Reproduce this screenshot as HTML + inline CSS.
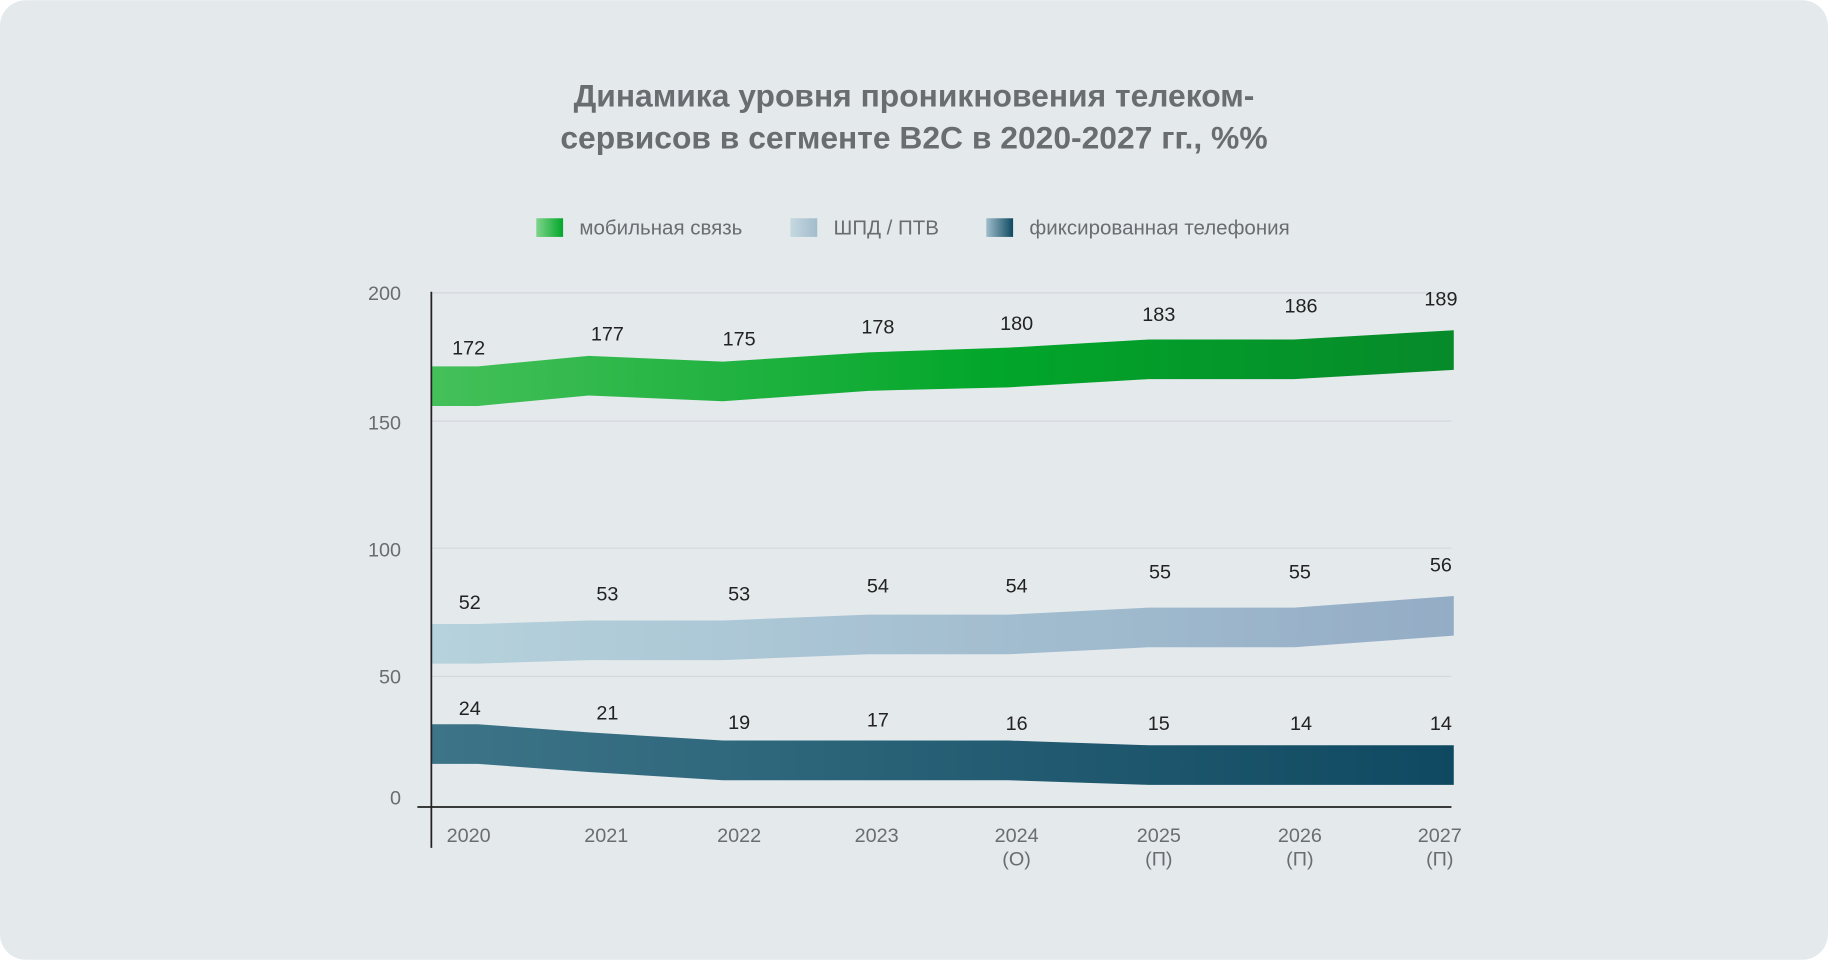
<!DOCTYPE html>
<html><head><meta charset="utf-8"><style>
html,body{margin:0;padding:0;background:#fff;}
svg{display:block;}
text{font-family:"Liberation Sans",sans-serif;}
</style></head><body>
<svg width="1828" height="960" viewBox="0 0 1568 823" xmlns="http://www.w3.org/2000/svg">
<defs>
<linearGradient id="gg" x1="370" x2="1247" y1="0" y2="0" gradientUnits="userSpaceOnUse">
<stop offset="0" stop-color="#45c05a"/><stop offset="0.55" stop-color="#02a62a"/><stop offset="1" stop-color="#068a2a"/></linearGradient>
<linearGradient id="lg" x1="370" x2="1247" y1="0" y2="0" gradientUnits="userSpaceOnUse">
<stop offset="0" stop-color="#b6d2dc"/><stop offset="1" stop-color="#94adc6"/></linearGradient>
<linearGradient id="dg" x1="370" x2="1247" y1="0" y2="0" gradientUnits="userSpaceOnUse">
<stop offset="0" stop-color="#3d7488"/><stop offset="1" stop-color="#0f4961"/></linearGradient>
<linearGradient id="lgg" x1="0" x2="1"><stop offset="0" stop-color="#7fd48c"/><stop offset="1" stop-color="#02a62a"/></linearGradient>
<linearGradient id="lgl" x1="0" x2="1"><stop offset="0" stop-color="#c4d8e0"/><stop offset="1" stop-color="#a3bccc"/></linearGradient>
<linearGradient id="lgd" x1="0" x2="1"><stop offset="0" stop-color="#9fbecb"/><stop offset="1" stop-color="#0f4961"/></linearGradient>
</defs>
<rect x="0" y="0" width="1568" height="823" rx="22" fill="#e4e9ec"/>
<text x="784" y="91" text-anchor="middle" font-size="27.3" font-weight="bold" fill="#6a6d70">Динамика уровня проникновения телеком-</text>
<text x="784" y="127" text-anchor="middle" font-size="27.3" font-weight="bold" fill="#6a6d70">сервисов в сегменте B2C в 2020-2027 гг., %%</text>
<rect x="460" y="187" width="23" height="16" fill="url(#lgg)"/>
<text x="497" y="201" font-size="17.6" fill="#6a6d70">мобильная связь</text>
<rect x="678" y="187" width="23" height="16" fill="url(#lgl)"/>
<text x="715" y="201" font-size="17.6" fill="#6a6d70">ШПД / ПТВ</text>
<rect x="846" y="187" width="23" height="16" fill="url(#lgd)"/>
<text x="883" y="201" font-size="17.6" fill="#6a6d70">фиксированная телефония</text>
<g stroke="#d3d8db" stroke-width="1">
<line x1="370" x2="1245" y1="251" y2="251"/><line x1="370" x2="1245" y1="361" y2="361"/>
<line x1="370" x2="1245" y1="470" y2="470"/><line x1="370" x2="1245" y1="580" y2="580"/>
</g>
<g font-size="17" fill="#6a6d70" text-anchor="end">
<text x="344" y="257">200</text><text x="344" y="368">150</text><text x="344" y="477">100</text><text x="344" y="586">50</text><text x="344" y="690">0</text>
</g>
<polygon fill="url(#gg)" points="370,314 410,314 505,305 620,310 745,302 865,298 985,291 1110,291 1247,283 1247,317 1110,325 985,325 865,332 745,335 620,344 505,339 410,348 370,348"/>
<polygon fill="url(#lg)" points="370,535 410,535 505,532 620,532 745,527 865,527 985,521 1110,521 1247,511 1247,545 1110,555 985,555 865,561 745,561 620,566 505,566 410,569 370,569"/>
<polygon fill="url(#dg)" points="370,621 410,621 505,628 620,635 745,635 865,635 985,639 1110,639 1247,639 1247,673 1110,673 985,673 865,669 745,669 620,669 505,662 410,655 370,655"/>
<line x1="370" x2="370" y1="250" y2="727" stroke="#222" stroke-width="1.5"/>
<line x1="358" x2="1245" y1="692" y2="692" stroke="#222" stroke-width="1.5"/>
<g font-size="17" fill="#222" text-anchor="middle">
<text x="402" y="304">172</text><text x="521" y="292">177</text><text x="634" y="296">175</text><text x="753" y="286">178</text><text x="872" y="283">180</text><text x="994" y="275">183</text><text x="1116" y="268">186</text><text x="1236" y="262">189</text>
<text x="403" y="522">52</text><text x="521" y="515">53</text><text x="634" y="515">53</text><text x="753" y="508">54</text><text x="872" y="508">54</text><text x="995" y="496">55</text><text x="1115" y="496">55</text><text x="1236" y="490">56</text>
<text x="403" y="613">24</text><text x="521" y="617">21</text><text x="634" y="625">19</text><text x="753" y="623">17</text><text x="872" y="626">16</text><text x="994" y="626">15</text><text x="1116" y="626">14</text><text x="1236" y="626">14</text>
</g>
<g font-size="17" fill="#6a6d70" text-anchor="middle">
<text x="402" y="722">2020</text><text x="520" y="722">2021</text><text x="634" y="722">2022</text><text x="752" y="722">2023</text>
<text x="872" y="722">2024</text><text x="872" y="742">(О)</text>
<text x="994" y="722">2025</text><text x="994" y="742">(П)</text>
<text x="1115" y="722">2026</text><text x="1115" y="742">(П)</text>
<text x="1235" y="722">2027</text><text x="1235" y="742">(П)</text>
</g>
</svg>
</body></html>
